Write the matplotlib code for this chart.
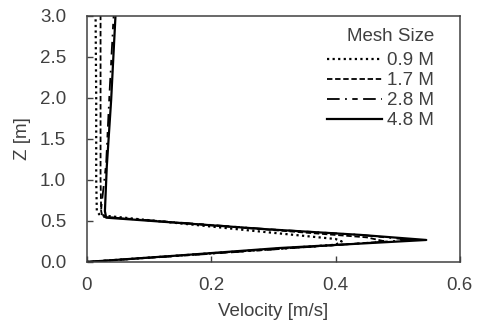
import matplotlib
matplotlib.use("Agg")
import matplotlib.pyplot as plt

plt.rcParams['font.family'] = ['Liberation Sans', 'DejaVu Sans']

# Velocity profiles (velocity [m/s], height Z [m]) for each mesh size
z_09 = [0.0, 0.10, 0.21, 0.25, 0.28, 0.37, 0.57, 0.62, 1.0, 2.0, 3.0]
v_09 = [0.0, 0.19, 0.40, 0.41, 0.40, 0.28, 0.021, 0.016, 0.015, 0.015, 0.014]

z_17 = [0.0, 0.10, 0.20, 0.25, 0.30, 0.40, 0.55, 0.62, 1.0, 2.0, 3.0]
v_17 = [0.0, 0.19, 0.39, 0.48, 0.45, 0.28, 0.025, 0.023, 0.022, 0.022, 0.022]

z_28 = [0.0, 0.10, 0.20, 0.27, 0.33, 0.40, 0.55, 0.65, 1.2, 2.0, 3.0]
v_28 = [0.0, 0.20, 0.39, 0.52, 0.44, 0.29, 0.027, 0.023, 0.031, 0.036, 0.043]

z_48 = [0.0, 0.08, 0.17, 0.268, 0.33, 0.40, 0.54, 0.62, 1.16, 1.97, 3.0]
v_48 = [0.0, 0.15, 0.31, 0.546, 0.44, 0.287, 0.031, 0.029, 0.032, 0.039, 0.046]

labels = ['0.9 M', '1.7 M', '2.8 M', '4.8 M']
xticks = [0, 0.2, 0.4, 0.6]
xticklabels = ['0', '0.2', '0.4', '0.6']
yticks = [0.0, 0.5, 1.0, 1.5, 2.0, 2.5, 3.0]

gray = '#404040'
fig = plt.figure(figsize=(4.8, 3.25), dpi=100)
ax = fig.add_axes([0.181, 0.194, 0.777, 0.757])

ax.plot(v_09, z_09, color='black', lw=1.6, linestyle=(0, (1, 1.5)), label=labels[0])
ax.plot(v_17, z_17, color='black', lw=1.3, linestyle=(0, (3, 1.5)), label=labels[1])
ax.plot(v_28, z_28, color='black', lw=1.3, linestyle=(0, (7, 3, 1, 3, 3, 3)), label=labels[2])
ax.plot(v_48, z_48, color='black', lw=1.6, linestyle='-', label=labels[3])

ax.set_xlim(0, 0.6)
ax.set_ylim(0, 3.0)
ax.set_xticks(xticks)
ax.set_xticklabels(xticklabels)
ax.set_yticks(yticks)
ax.set_yticklabels([f'{t:.1f}' for t in yticks])
ax.tick_params(direction='in', length=4, width=1, colors=gray, labelsize=13.5,
               labelcolor=gray)
ax.tick_params(axis='x', pad=11)
ax.tick_params(axis='y', pad=15)
for s in ax.spines.values():
    s.set_color(gray)
    s.set_linewidth(1.1)

ax.set_xlabel('Velocity [m/s]', fontsize=13.5, color=gray, labelpad=6)
ax.set_ylabel('Z [m]', fontsize=13.5, color=gray, labelpad=6)

leg = ax.legend(title='Mesh Size', loc='upper right', frameon=False,
                fontsize=13.5, title_fontsize=13.5, handlelength=2.9,
                handletextpad=0.3, labelspacing=0.15, borderaxespad=0.2,
                alignment='right', bbox_to_anchor=(0.962, 0.995))
leg._legend_box.sep = 5
for t in leg.get_texts():
    t.set_color(gray)
leg.get_title().set_color(gray)

fig.savefig('out.png', dpi=100)
